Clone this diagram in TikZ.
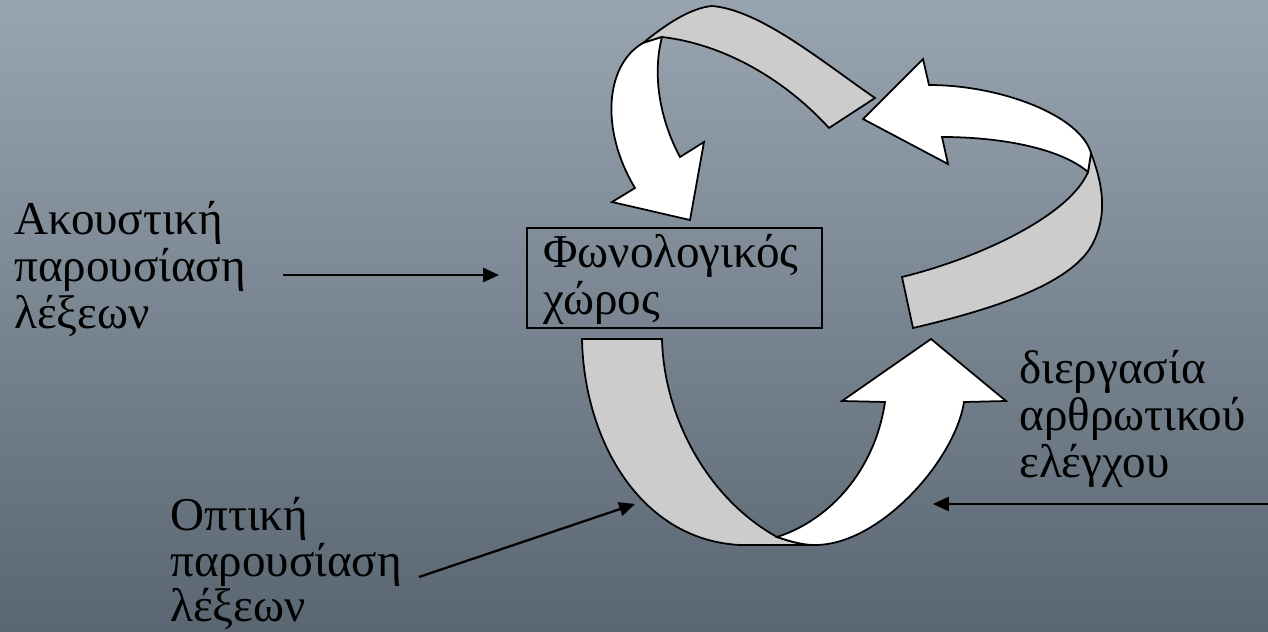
\documentclass[tikz,border=0pt]{standalone}
\usepackage{fontspec}
\setmainfont{Liberation Serif}
\usetikzlibrary{arrows.meta}
\definecolor{bgtop}{RGB}{152,164,175}
\definecolor{bgbot}{RGB}{90,102,114}
\definecolor{band}{RGB}{204,204,204}
\begin{document}
\begin{tikzpicture}[x=0.02cm,y=-0.02cm,
  lbl/.style={anchor=base west,inner sep=0pt,font=\fontsize{26.8}{30}\selectfont},
  ribbon/.style={draw=black,line width=1pt,line join=miter},
  grayband/.style={ribbon,fill=band},
  whiteband/.style={ribbon,fill=white},
  arr/.style={line width=1.3pt,-{Triangle[length=9pt,width=8pt]}}]
\useasboundingbox (0,0) rectangle (1268,632);
\shade[top color=bgtop,bottom color=bgbot] (0,0) rectangle (1268,632);

% ---- top-left curved arrow (down into box) ----
\draw[grayband] (643,43) .. controls (665,25) and (690,8) .. (712,6)
  .. controls (760,10) and (820,60) .. (875,98) -- (829,128)
  .. controls (790,85) and (730,45) .. (662,37) -- cycle;
\draw[whiteband] (643,43) .. controls (605,65) and (600,130) .. (635,188)
  -- (612,202) -- (690,220) -- (704,142) -- (680,157)
  .. controls (660,120) and (652,75) .. (662,37) -- cycle;

% ---- right curved arrow (pointing left) ----
\draw[grayband] (1091,153) .. controls (1103,185) and (1108,215) .. (1092,245)
  .. controls (1070,285) and (990,310) .. (913,328) -- (902,277)
  .. controls (980,258) and (1070,215) .. (1088,172) -- cycle;
\draw[whiteband] (929,85) .. controls (1000,85) and (1080,115) .. (1091,153)
  -- (1088,172) .. controls (1060,148) and (1000,137) .. (942,137)
  -- (948,164) -- (863,119) -- (923,59) -- cycle;

% ---- bottom curved arrow (pointing up) ----
\draw[grayband] (582,339) -- (662,339) .. controls (664,420) and (710,500) .. (777,537)
  .. controls (792,542) and (803,545) .. (815,545) -- (740,545)
  .. controls (640,540) and (584,440) .. (582,339) -- cycle;
\draw[whiteband] (777,537) .. controls (792,542) and (803,545) .. (815,545)
  .. controls (880,545) and (955,460) .. (964,402)
  -- (1006,401) -- (931,339) -- (842,401) -- (885,402)
  .. controls (875,470) and (830,520) .. (777,537) -- cycle;

% ---- central box ----
\node[draw=black,line width=1pt,minimum width=5.9cm,minimum height=2cm,inner sep=0pt] (box) at (674.5,278) {};
\node[lbl] (box1) at (543,267) {Φωνολογικός};
\node[lbl] (box2) at (543,314) {χώρος};

% ---- left labels ----
\node[lbl] (ak1) at (14,234) {Ακουστική};
\node[lbl] (ak2) at (14,281) {παρουσίαση};
\node[lbl] (ak3) at (14,328) {λέξεων};

\node[lbl] (op1) at (170,530) {Οπτική};
\node[lbl] (op2) at (170,576) {παρουσίαση};
\node[lbl] (op3) at (170,621) {λέξεων};

\node[lbl] (di1) at (1019,383) {διεργασία};
\node[lbl] (di2) at (1019,430) {αρθρωτικού};
\node[lbl] (di3) at (1019,477) {ελέγχου};

% ---- connectors ----
\coordinate (a1s) at (283,275);
\coordinate (a1e) at (499,275);
\draw[arr] (a1s) -- (a1e);
\coordinate (o1s) at (419,577);
\coordinate (o1e) at (635,504);
\draw[arr] (o1s) -- (o1e);
\coordinate (r1s) at (1268,504);
\coordinate (r1e) at (933,504);
\draw[arr] (r1s) -- (r1e);
\end{tikzpicture}
\end{document}
